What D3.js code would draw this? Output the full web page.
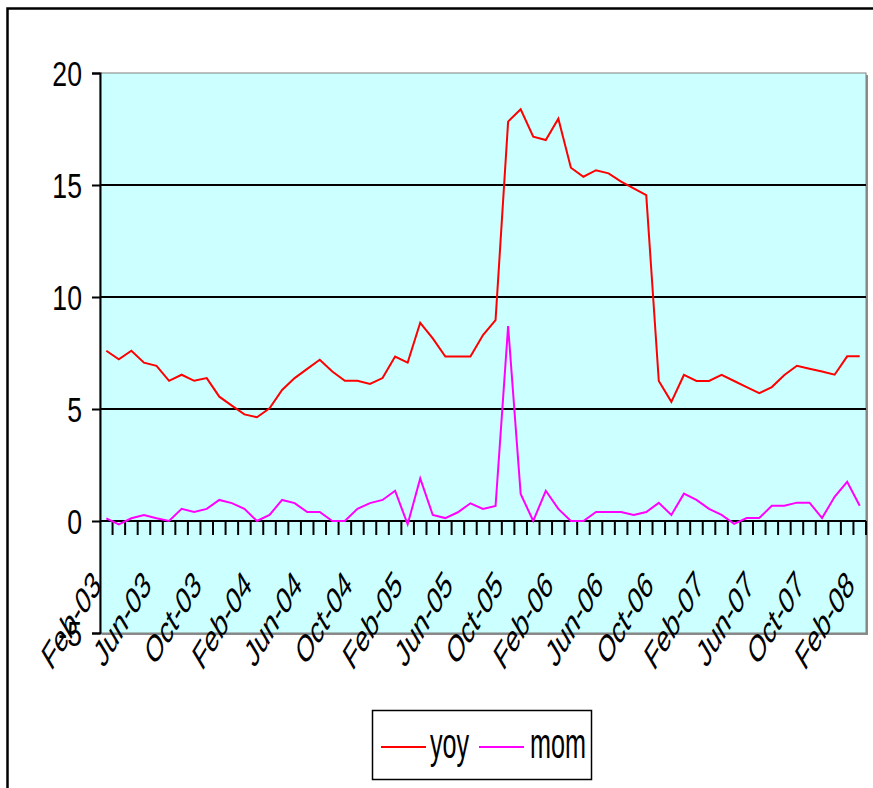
<!DOCTYPE html>
<html>
<head>
<meta charset="utf-8">
<script src="https://cdn.jsdelivr.net/npm/d3@7"></script>
<style>
  html, body { margin: 0; padding: 0; background: #fff; }
  svg { display: block; }
  text { font-family: "Liberation Sans", Arial, sans-serif; fill: #000; }
</style>
</head>
<body>
<svg id="chart" width="873" height="788"></svg>
<script>
// Monthly categories, Feb-03 through Feb-08
const months = [
  "Feb-03","Mar-03","Apr-03","May-03","Jun-03","Jul-03","Aug-03","Sep-03","Oct-03","Nov-03","Dec-03","Jan-04",
  "Feb-04","Mar-04","Apr-04","May-04","Jun-04","Jul-04","Aug-04","Sep-04","Oct-04","Nov-04","Dec-04","Jan-05",
  "Feb-05","Mar-05","Apr-05","May-05","Jun-05","Jul-05","Aug-05","Sep-05","Oct-05","Nov-05","Dec-05","Jan-06",
  "Feb-06","Mar-06","Apr-06","May-06","Jun-06","Jul-06","Aug-06","Sep-06","Oct-06","Nov-06","Dec-06","Jan-07",
  "Feb-07","Mar-07","Apr-07","May-07","Jun-07","Jul-07","Aug-07","Sep-07","Oct-07","Nov-07","Dec-07","Jan-08",
  "Feb-08"
];

// Year-on-year change (%)
const yoy = [
  7.60, 7.22, 7.60, 7.07, 6.93, 6.26, 6.53, 6.26, 6.38, 5.55, 5.15, 4.76,
  4.63, 5.03, 5.85, 6.38, 6.79, 7.20, 6.67, 6.26, 6.26, 6.12, 6.38, 7.34,
  7.07, 8.85, 8.15, 7.34, 7.34, 7.34, 8.30, 8.97, 17.83, 18.38, 17.16, 17.01,
  17.96, 15.77, 15.37, 15.66, 15.52, 15.15, 14.85, 14.55, 6.25, 5.32, 6.52, 6.25,
  6.25, 6.52, 6.25, 5.98, 5.71, 5.98, 6.52, 6.93, 6.80, 6.67, 6.53, 7.35,
  7.35
];

// Month-on-month change (%)
const mom = [
  0.12, -0.15, 0.12, 0.27, 0.12, 0.00, 0.54, 0.40, 0.54, 0.94, 0.80, 0.54,
  0.00, 0.27, 0.94, 0.80, 0.40, 0.40, 0.00, 0.00, 0.54, 0.80, 0.94, 1.35,
  -0.15, 1.90, 0.27, 0.13, 0.39, 0.79, 0.54, 0.67, 8.70, 1.21, 0.00, 1.35,
  0.54, 0.00, 0.00, 0.40, 0.40, 0.40, 0.27, 0.40, 0.81, 0.27, 1.22, 0.94,
  0.54, 0.27, -0.13, 0.13, 0.13, 0.68, 0.68, 0.82, 0.82, 0.13, 1.08, 1.75,
  0.68
];

const yTicks = [-5, 0, 5, 10, 15, 20];
const gridValues = [5, 10, 15];
const labelEvery = 4;

const series = [
  { name: "yoy", values: yoy, color: "#ff0000" },
  { name: "mom", values: mom, color: "#ff00ff" }
];

const svg = d3.select("#chart");
const plot = { left: 100, right: 866, top: 73, bottom: 633 };
const squeeze = 0.6;

const x = d3.scaleBand().domain(months).range([plot.left, plot.right]).padding(0);
const y = d3.scaleLinear().domain([-5, 20]).range([plot.bottom, plot.top]);
const bw = x.bandwidth();

// Outer chart frame
svg.append("rect")
  .attr("x", 7.5).attr("y", 8.5).attr("width", 1000).attr("height", 1000)
  .attr("fill", "none").attr("stroke", "#000").attr("stroke-width", 2.5);

// Plot area with drop shadow
svg.append("rect")
  .attr("x", plot.left + 2).attr("y", plot.top + 2)
  .attr("width", plot.right - plot.left).attr("height", plot.bottom - plot.top)
  .attr("fill", "#8c8c8c");
svg.append("rect")
  .attr("x", plot.left).attr("y", plot.top)
  .attr("width", plot.right - plot.left).attr("height", plot.bottom - plot.top)
  .attr("fill", "#ccffff").attr("stroke", "#808080").attr("stroke-width", 1);

// Horizontal gridlines
svg.append("g").selectAll("line").data(gridValues).join("line")
  .attr("x1", plot.left).attr("x2", plot.right)
  .attr("y1", d => y(d)).attr("y2", d => y(d))
  .attr("stroke", "#000").attr("stroke-width", 2);

// Category axis along zero, with ticks between months
const boundaries = months.map(m => x(m)).concat([plot.right]);
svg.append("line")
  .attr("x1", plot.left).attr("x2", plot.right)
  .attr("y1", y(0)).attr("y2", y(0))
  .attr("stroke", "#000").attr("stroke-width", 2);
svg.append("g").selectAll("line").data(boundaries.slice(1)).join("line")
  .attr("x1", d => d).attr("x2", d => d)
  .attr("y1", y(0)).attr("y2", y(0) + 14)
  .attr("stroke", "#000").attr("stroke-width", 2);

// Value axis
const yAxis = svg.append("g")
  .attr("transform", `translate(${plot.left},0)`)
  .call(d3.axisLeft(y).tickValues(yTicks).tickSize(8).tickFormat(d => String(d)));
yAxis.select(".domain").attr("stroke", "#000").attr("stroke-width", 2);
yAxis.selectAll(".tick line").attr("stroke", "#000").attr("stroke-width", 2);
yAxis.selectAll(".tick text")
  .attr("x", null).attr("dy", "0.36em")
  .attr("transform", `translate(-18,0) scale(0.74,1)`)
  .style("font-size", "36px")
  .style("font-family", "\"Liberation Sans\", Arial, sans-serif")
  .attr("fill", "#000");

// Rotated month labels
svg.append("g").selectAll("text")
  .data(months.filter((m, i) => i % labelEvery === 0))
  .join("text")
  .attr("text-anchor", "end")
  .attr("transform", d => `translate(${x(d) + bw / 2 - 4},587) scale(${squeeze},1) rotate(-45)`)
  .style("font-size", "38px")
  .text(d => d);

// Series lines
const line = d3.line()
  .x((d, i) => x(months[i]) + bw / 2)
  .y(d => y(d));
svg.append("g").selectAll("path").data(series).join("path")
  .attr("d", s => line(s.values))
  .attr("fill", "none")
  .attr("stroke", s => s.color)
  .attr("stroke-width", 2)
  .attr("stroke-linejoin", "miter");

// Legend
const legend = svg.append("g");
legend.append("rect")
  .attr("x", 372.5).attr("y", 710.5).attr("width", 219).attr("height", 69)
  .attr("fill", "#fff").attr("stroke", "#000").attr("stroke-width", 1.5);
const legendItems = [
  { s: series[0], x0: 381, tx: 430 },
  { s: series[1], x0: 479, tx: 530 }
];
legendItems.forEach(it => {
  legend.append("line")
    .attr("x1", it.x0).attr("x2", it.x0 + 45)
    .attr("y1", 747).attr("y2", 747)
    .attr("stroke", it.s.color).attr("stroke-width", 2);
  legend.append("text")
    .attr("transform", `translate(${it.tx},758) scale(0.6,1)`)
    .style("font-size", "42px")
    .text(it.s.name);
});
</script>
</body>
</html>
